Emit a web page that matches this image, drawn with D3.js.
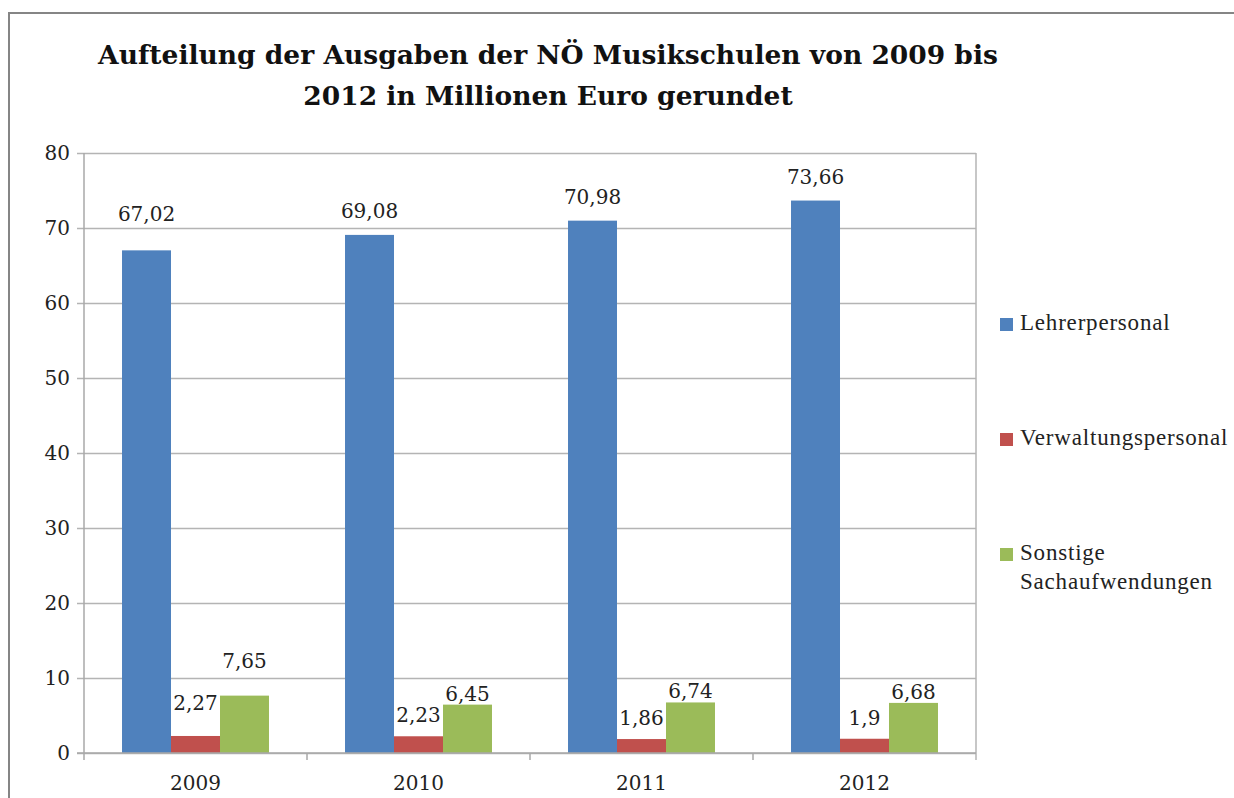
<!DOCTYPE html>
<html lang="de">
<head>
<meta charset="UTF-8">
<title>Ausgaben NÖ Musikschulen</title>
<script src="https://d3js.org/d3.v7.min.js"></script>
<style>
  body { margin: 0; background: #fff; }
</style>
</head>
<body>
<svg id="chart"></svg>
<script>
const width = 1234, height = 798;

// data
const years = ["2009", "2010", "2011", "2012"];
const seriesNames = ["Lehrerpersonal", "Verwaltungspersonal", "Sonstige Sachaufwendungen"];
const lehrer = [67.02, 69.08, 70.98, 73.66];
const verwaltung = [2.27, 2.23, 1.86, 1.9];
const sonstige = [7.65, 6.45, 6.74, 6.68];
const yTicks = [0, 10, 20, 30, 40, 50, 60, 70, 80];
const colors = ["#4f81bd", "#c0504d", "#9bbb59"];

const values = [lehrer, verwaltung, sonstige];
const rows = years.map((y, i) => ({ year: y, vals: values.map((s, k) => ({ key: seriesNames[k], k: k, v: s[i], i: i })) }));

const plot = { left: 84, right: 976, top: 153, bottom: 753 };

const svg = d3.select("#chart").attr("width", width).attr("height", height);

// outer frame
svg.append("path")
  .attr("d", `M9,${height} V13 H${width}`)
  .attr("fill", "none").attr("stroke", "#858585").attr("stroke-width", 2);

// title
const title = svg.append("text")
  .attr("x", 548).attr("text-anchor", "middle")
  .attr("font-family", "DejaVu Serif").attr("font-weight", "bold").attr("font-size", 26.5)
  .attr("fill", "#111");
title.append("tspan").attr("x", 548).attr("y", 64).text("Aufteilung der Ausgaben der NÖ Musikschulen von 2009 bis");
title.append("tspan").attr("x", 548).attr("y", 105).text("2012 in Millionen Euro gerundet");

const x0 = d3.scaleBand().domain(years).range([plot.left, plot.right]);
const x1 = d3.scaleBand().domain(seriesNames).range([0, x0.bandwidth()]).paddingOuter(0.776);
const y = d3.scaleLinear().domain([0, 80]).range([plot.bottom, plot.top]);

// gridlines + y axis
const yAxis = d3.axisLeft(y).tickValues(yTicks).tickSize(-(plot.right - plot.left)).tickPadding(14).tickFormat(d3.format("d"));
const gy = svg.append("g").attr("transform", `translate(${plot.left},0)`).call(yAxis);
gy.select(".domain").remove();
gy.selectAll(".tick line").attr("stroke", "#b4b4b4").attr("stroke-width", 1.5).attr("x1", -7);
gy.selectAll(".tick text").attr("font-family", "DejaVu Serif").attr("font-size", 20).attr("fill", "#222");

// plot frame lines left / right
svg.append("line").attr("x1", plot.left).attr("x2", plot.left).attr("y1", plot.top).attr("y2", plot.bottom + 7)
  .attr("stroke", "#a8a8a8").attr("stroke-width", 1.5);
svg.append("line").attr("x1", plot.right).attr("x2", plot.right).attr("y1", plot.top).attr("y2", plot.bottom + 7)
  .attr("stroke", "#b4b4b4").attr("stroke-width", 1.5);

// category separators on x axis
svg.selectAll(".sep").data(years.slice(1)).join("line")
  .attr("x1", d => x0(d)).attr("x2", d => x0(d))
  .attr("y1", plot.bottom).attr("y2", plot.bottom + 7)
  .attr("stroke", "#a8a8a8").attr("stroke-width", 1.5);

// x labels
svg.selectAll(".xl").data(years).join("text")
  .attr("x", d => x0(d) + x0.bandwidth() / 2).attr("y", 790)
  .attr("text-anchor", "middle").attr("font-family", "DejaVu Serif").attr("font-size", 20).attr("fill", "#222")
  .text(d => d);

// bars
const groups = svg.selectAll(".grp").data(rows).join("g").attr("transform", d => `translate(${x0(d.year)},0)`);
groups.selectAll("rect").data(d => d.vals).join("rect")
  .attr("x", d => x1(d.key)).attr("width", x1.bandwidth())
  .attr("y", d => y(d.v)).attr("height", d => plot.bottom - y(d.v))
  .attr("fill", d => colors[d.k]);

// redraw x axis baseline over bars
svg.append("line").attr("x1", plot.left - 7).attr("x2", plot.right).attr("y1", plot.bottom).attr("y2", plot.bottom)
  .attr("stroke", "#a8a8a8").attr("stroke-width", 1.5);

// value labels (first year's labels sit higher in the original)
const labelGap = [17, 14, 4];
groups.selectAll(".vl").data(d => d.vals).join("text")
  .attr("x", d => x1(d.key) + x1.bandwidth() / 2)
  .attr("y", d => y(d.v) - labelGap[d.k] - (d.i === 0 ? 12 + (d.k === 2 ? 12 : 0) : 0))
  .attr("text-anchor", "middle").attr("font-family", "DejaVu Serif").attr("font-size", 20).attr("fill", "#222")
  .text(d => String(d.v).replace(".", ","));

// legend
const legendY = [330, 445, 560];
const lg = svg.selectAll(".lg").data(seriesNames).join("g").attr("transform", (d, i) => `translate(1000,${legendY[i]})`);
lg.append("rect").attr("x", 0).attr("y", -12).attr("width", 13).attr("height", 13).attr("fill", (d, i) => colors[i]);
lg.each(function (d) {
  const t = d3.select(this).append("text").attr("x", 20).attr("y", 0)
    .attr("font-family", "Liberation Serif").attr("font-size", 23).attr("letter-spacing", 0.8).attr("fill", "#222");
  const parts = d.split(" ");
  parts.forEach((p, j) => t.append("tspan").attr("x", 20).attr("dy", j === 0 ? 0 : 29).text(p));
});
</script>
</body>
</html>
